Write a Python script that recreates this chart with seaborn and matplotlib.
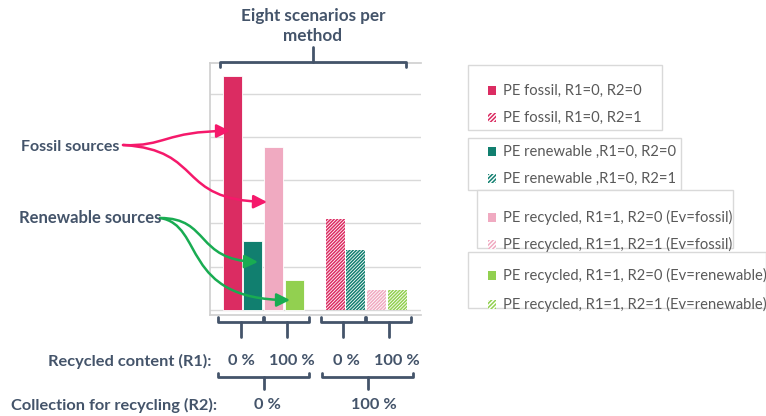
import numpy as np
import pandas as pd
import matplotlib.pyplot as plt
import seaborn as sns
from matplotlib.patches import Patch, Rectangle, FancyArrowPatch
from matplotlib.path import Path

# datos (unidades relativas, sin eje y)
escenarios = ["PE fossil, R1=0, R2=0", "PE renewable ,R1=0, R2=0",
              "PE recycled, R1=1, R2=0 (Ev=fossil)", "PE recycled, R1=1, R2=0 (Ev=renewable)",
              "PE fossil, R1=0, R2=1", "PE renewable ,R1=0, R2=1",
              "PE recycled, R1=1, R2=1 (Ev=fossil)", "PE recycled, R1=1, R2=1 (Ev=renewable)"]
posiciones = [0, 1, 2, 3, 5, 6, 7, 8]
valores = [5.42, 1.60, 3.77, 0.68, 2.10, 1.38, 0.46, 0.46]
r2 = [0, 0, 0, 0, 1, 1, 1, 1]
colores = ["#DB2C62", "#117F6F", "#F0AAC1", "#92D050"] * 2
orden_leyenda = [0, 4, 1, 5, 2, 6, 3, 7]

r1_labels = ["0 %", "100 %", "0 %", "100 %"]
r2_labels = ["0 %", "100 %"]

txt = "#44546A"
gris = "#595959"

sns.set_theme(style="white")
plt.rcParams["font.family"] = ["Lato", "DejaVu Sans"]
plt.rcParams["hatch.linewidth"] = 1.1

df = pd.DataFrame({"pos": posiciones, "valor": valores, "escenario": escenarios, "r2": r2})

fig = plt.figure(figsize=(7.66, 4.16), dpi=100)
W, H = 766, 416
ax = fig.add_axes([210 / W, 1 - 315 / H, (421 - 210) / W, (315 - 62.7) / H])
sns.barplot(data=df, x="pos", y="valor", hue="escenario", palette=colores,
            native_scale=True, dodge=False, width=0.92, legend=False, ax=ax,
            saturation=1, zorder=3)
for bar in ax.patches:
    i = posiciones.index(int(round(bar.get_x() + bar.get_width() / 2)))
    c = colores[i]
    if r2[i] == 1:
        bar.set_facecolor("white")
        bar.set_edgecolor(c)
        bar.set_hatch("//////////")
        bar.set_linewidth(0)
    else:
        bar.set_edgecolor("white")
        bar.set_linewidth(0.6)

ax.set_xlim(-1.07, 9.15)
ax.set_ylim(-0.12, 5.72)
ax.set_yticks([0, 1, 2, 3, 4, 5])
ax.set_xticks([])
ax.yaxis.grid(True, color="#D9D9D9", lw=1)
ax.tick_params(left=False, labelleft=False)
ax.set_xlabel("")
ax.set_ylabel("")
for s in ["left", "bottom", "top"]:
    ax.spines[s].set_color("#D0D0D0")
ax.spines["right"].set_visible(False)

# capa superpuesta en pixeles para anotaciones
ov = fig.add_axes([0, 0, 1, 1], zorder=5)
ov.set_xlim(0, W)
ov.set_ylim(H, 0)
ov.axis("off")
ov.patch.set_alpha(0)


def llave(x0, x1, y, tope, tallo, xm=None):
    xm = (x0 + x1) / 2 if xm is None else xm
    ov.plot([x0, x0, x1, x1], [tope, y, y, tope], color=txt, lw=2, solid_joinstyle="round")
    ov.plot([xm, xm], [y, tallo], color=txt, lw=2)


# llave superior
llave(220, 406, 62, 67, 47, xm=313)
ov.text(313, 26, "Eight scenarios per\nmethod", ha="center", va="center", fontsize=12.3,
        fontweight="bold", color=txt, linespacing=1.3)

# llaves inferiores
for (a, b), lab, xt in zip([(218, 263), (264, 309), (321, 365), (366, 411)], r1_labels,
                           [241.5, 292, 346, 397]):
    llave(a, b, 322, 317, 337)
    ov.text(xt, 361, lab, ha="center", va="center", fontsize=11.8,
            fontweight="bold", color=txt)
for (a, b), lab, xt in zip([(218, 309), (322, 413)], r2_labels, [267.5, 373.5]):
    llave(a, b, 377, 373, 389)
    ov.text(xt, 405, lab, ha="center", va="center", fontsize=11.8,
            fontweight="bold", color=txt)
ov.text(211, 361, "Recycled content (R1):", ha="right", va="center", fontsize=11.8,
        fontweight="bold", color=txt)
ov.text(217, 405, "Collection for recycling (R2):", ha="right", va="center", fontsize=11.8,
        fontweight="bold", color=txt)

# textos y flechas a la izquierda
ov.text(21, 147, "Fossil sources", ha="left", va="center", fontsize=11.5,
        fontweight="bold", color=txt)
ov.text(19, 218, "Renewable sources", ha="left", va="center", fontsize=12,
        fontweight="bold", color=txt)

flechas = [
    ("#F5196B", [(123, 145), (165, 147), (165, 131), (230, 131)]),
    ("#F5196B", [(123, 145), (205, 150), (175, 200), (267, 202)]),
    ("#19AC52", [(160, 218), (210, 218), (195, 260), (258, 262)]),
    ("#19AC52", [(160, 218), (205, 225), (180, 300), (290, 300)]),
]
for col, pts in flechas:
    p = Path(pts, [Path.MOVETO, Path.CURVE4, Path.CURVE4, Path.CURVE4])
    ov.add_patch(FancyArrowPatch(path=p, arrowstyle="-|>", mutation_scale=20,
                                 color=col, lw=1.8, transform=ov.transData))

# cajas de leyenda
fs = 10.6
fpx = fs * 100 / 72
cajas = [(468, 65, 662, 130), (468, 138, 681, 190), (477, 190, 733, 248), (468, 252, 766, 308)]
filas_y = [(89, 117), (150, 178), (215, 242), (273, 302)]
for k, (x0, y0, x1, y1) in enumerate(cajas):
    ov.add_patch(Rectangle((x0, y0), x1 - x0, y1 - y0, fill=True, facecolor="white",
                           edgecolor="#D9D9D9", lw=1))
    handles = []
    for j in orden_leyenda[2 * k:2 * k + 2]:
        if r2[j] == 1:
            handles.append(Patch(facecolor="white", edgecolor=colores[j], hatch="////////",
                                 linewidth=0, label=escenarios[j]))
        else:
            handles.append(Patch(facecolor=colores[j], linewidth=0, label=escenarios[j]))
    ya, yb = filas_y[k]
    leg = fig.legend(handles=handles, loc="upper left",
                     bbox_to_anchor=(481 / W, 1 - (ya - 12) / H), frameon=False,
                     borderpad=0, handlelength=0.55, handleheight=0.55, handletextpad=0.45,
                     labelspacing=(yb - ya - 15) / fpx, fontsize=fs, labelcolor=gris)
    leg.set_zorder(10)

fig.savefig("out.png", dpi=100)
